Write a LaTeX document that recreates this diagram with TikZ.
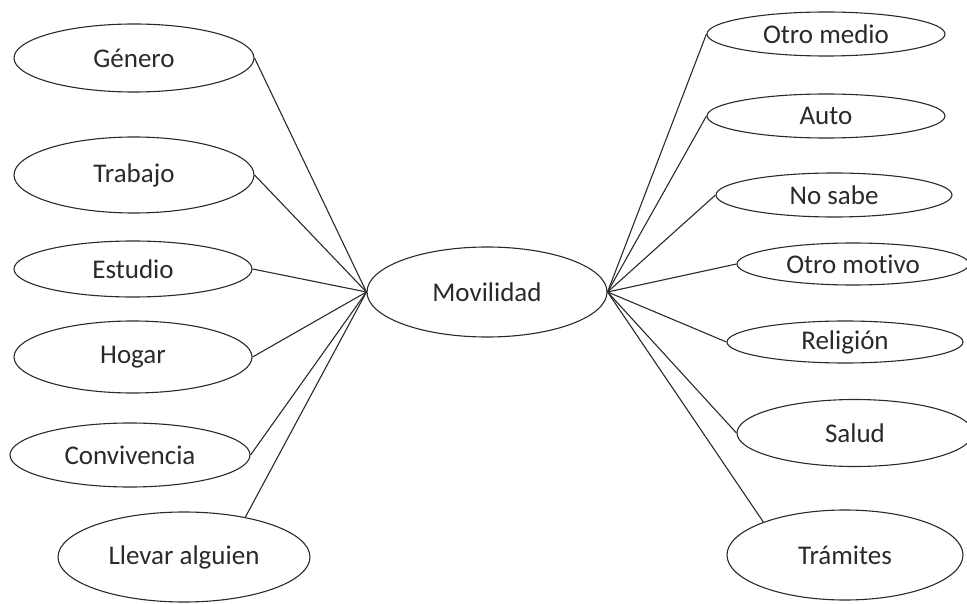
\documentclass[tikz,border=0pt]{standalone}
\usepackage{fontspec}
\setmainfont{Carlito}[Ligatures=CommonOff]
\usetikzlibrary{shapes.geometric}
\definecolor{ink}{HTML}{2A2A2A}
\tikzset{
  oval/.style={ellipse, draw=ink, line width=1.1pt, inner sep=0pt, text=ink,
    font=\fontsize{27}{32}\selectfont},
  link/.style={draw=ink, line width=1.1pt}
}
\begin{document}
\begin{tikzpicture}[x=1pt,y=-1pt]
\useasboundingbox (0,0) rectangle (967,604);
% center
\node[oval, minimum width=240pt, minimum height=90pt] (mov) at (487,292) {Movilidad};
% left
\node[oval, minimum width=240pt, minimum height=68pt] (gen) at (134,58) {Género};
\node[oval, minimum width=240pt, minimum height=76pt] (tra) at (134,175) {Trabajo};
\node[oval, minimum width=238pt, minimum height=56pt] (est) at (133,269) {Estudio};
\node[oval, minimum width=238pt, minimum height=72pt] (hog) at (133,357) {Hogar};
\node[oval, minimum width=240pt, minimum height=64pt] (con) at (130,455) {Convivencia};
\node[oval, minimum width=252pt, minimum height=90pt] (lle) at (184,557) {Llevar alguien};
% right
\node[oval, minimum width=238pt, minimum height=44pt] (otm) at (826,34) {Otro medio};
\node[oval, minimum width=238pt, minimum height=44pt] (aut) at (826,116) {Auto};
\node[oval, minimum width=236pt, minimum height=44pt] (nos) at (834,195) {No sabe};
\node[oval, minimum width=232pt, minimum height=42pt] (omo) at (853,264) {Otro motivo};
\node[oval, minimum width=236pt, minimum height=42pt] (rel) at (845,342) {Religión};
\node[oval, minimum width=236pt, minimum height=67pt] (sal) at (855,433) {Salud};
\node[oval, minimum width=236pt, minimum height=90pt] (tram) at (845,555) {Trámites};
% connectors left
\draw[link] (gen.east) -- (mov.west);
\draw[link] (tra.east) -- (mov.west);
\draw[link] (est.east) -- (mov.west);
\draw[link] (hog.east) -- (mov.west);
\draw[link] (con.east) -- (mov.west);
\draw[link] (lle.33) -- (mov.west);
% connectors right
\draw[link] (mov.east) -- (otm.west);
\draw[link] (mov.east) -- (aut.west);
\draw[link] (mov.east) -- (nos.west);
\draw[link] (mov.east) -- (omo.west);
\draw[link] (mov.east) -- (rel.west);
\draw[link] (mov.east) -- (sal.west);
\draw[link] (mov.east) -- (tram.158);
\end{tikzpicture}
\end{document}
